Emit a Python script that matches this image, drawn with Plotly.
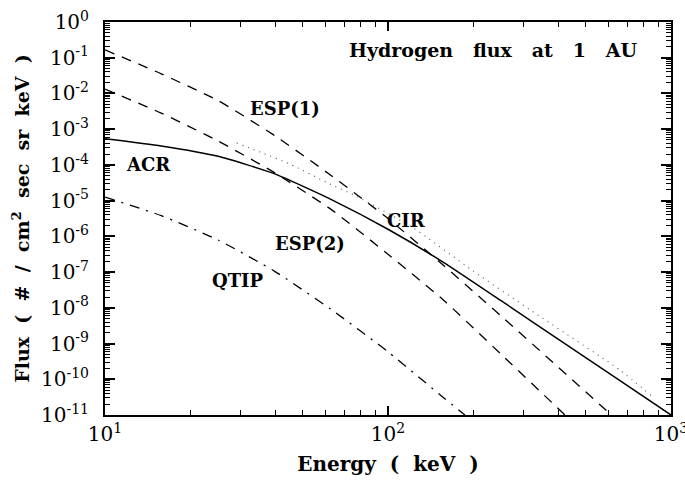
import math
import plotly.graph_objects as go

# ---- data ----
esp1_energy = [10, 15.8, 25.1, 39.8, 63.1, 100, 158, 251, 398, 616]
esp1_flux = [0.166, 0.0355, 6.3e-3, 6.6e-4, 5.0e-5, 3.16e-6, 1.48e-7, 5.9e-9, 2.24e-10, 1e-11]

esp2_energy = [10, 15.8, 25.1, 39.8, 63.1, 100, 158, 251, 422]
esp2_flux = [0.0132, 2.82e-3, 4.68e-4, 6.0e-5, 5.6e-6, 3.16e-7, 1.58e-8, 5.0e-10, 1e-11]

acr_energy = [10, 15.8, 25.1, 39.8, 63.1, 100, 158, 251, 398, 631, 1000]
acr_flux = [5.4e-4, 3.4e-4, 1.74e-4, 5.6e-5, 1.07e-5, 1.58e-6, 1.82e-7, 1.58e-8, 1.35e-9, 1.17e-10, 1e-11]

cir_energy = [29.2, 36.1, 45.1, 61.4, 78.3, 121.6, 200, 318, 661, 851]
cir_flux = [4.1e-4, 2.14e-4, 1.05e-4, 3.1e-5, 1.26e-5, 1.82e-6, 1.07e-7, 8.7e-9, 1.8e-10, 3.5e-11]

qtip_energy = [10, 15.8, 25.1, 39.8, 63.1, 100, 158, 187]
qtip_flux = [1.26e-5, 3.8e-6, 7.9e-7, 1.05e-7, 8.9e-9, 5.9e-10, 2.95e-11, 1e-11]

x_tick_vals = [10, 100, 1000]
x_tick_text = ["10<sup>1</sup>", "10<sup>2</sup>", "10<sup>3</sup>"]
y_exponents = [0, -1, -2, -3, -4, -5, -6, -7, -8, -9, -10, -11]

labels = ["ESP(1)", "ACR", "CIR", "ESP(2)", "QTIP"]
label_energy = [43.3, 14.2, 116.7, 53.0, 29.5]
label_flux = [3.9e-3, 1.0e-4, 2.8e-6, 6.5e-7, 5.9e-8]

title_text = "Hydrogen\u00a0\u00a0\u00a0flux\u00a0\u00a0\u00a0at\u00a0\u00a0\u00a01\u00a0\u00a0\u00a0AU"

# ---- figure ----
FONT = "DejaVu Serif"
fig = go.Figure()

def add(x, y, dash, width=1.3, color="black"):
    fig.add_trace(go.Scatter(x=x, y=y, mode="lines",
                             line=dict(color=color, width=width, dash=dash, shape="spline", smoothing=0.5),
                             showlegend=False, hoverinfo="skip"))

add(esp1_energy, esp1_flux, "10px,8px")
add(esp2_energy, esp2_flux, "10px,8px")
add(cir_energy, cir_flux, "1px,5px", 1.1, "#555555")
add(acr_energy, acr_flux, "solid", 1.5)
add(qtip_energy, qtip_flux, "10px,7px,2px,7px")

for t, ex, fy in zip(labels, label_energy, label_flux):
    fig.add_annotation(x=math.log10(ex), y=math.log10(fy), xref="x", yref="y",
                       text="<b>%s</b>" % t, showarrow=False,
                       font=dict(family=FONT, size=18, color="black"))

fig.add_annotation(x=0.945, y=0.929, xref="paper", yref="paper", xanchor="right", yanchor="middle",
                   text="<b>%s</b>" % title_text, showarrow=False,
                   font=dict(family=FONT, size=19, color="black"))

minor_x = [m * 10 ** d for d in (1, 2) for m in range(2, 10)]
minor_y = [m * 10.0 ** d for d in range(-11, 0) for m in range(2, 10)]

fig.update_xaxes(type="log", range=[0.9999, 3.0001], tickvals=x_tick_vals, ticktext=x_tick_text,
                 ticks="inside", ticklen=9, tickwidth=1.5, tickcolor="black",
                 showline=True, linecolor="black", linewidth=2, mirror="ticks",
                 showgrid=False, zeroline=False, automargin=False, ticklabeloverflow="allow",
                 minor=dict(tickvals=minor_x, ticks="inside", ticklen=5, tickwidth=1,
                            tickcolor="black", showgrid=False),
                 tickfont=dict(family=FONT, size=20, color="black"),
                 title=dict(text="<b>Energy\u00a0\u00a0(\u00a0\u00a0keV\u00a0\u00a0)</b>",
                            font=dict(family=FONT, size=20, color="black"), standoff=12))

fig.update_yaxes(type="log", range=[-11, 0], tickvals=[10.0 ** e for e in y_exponents],
                 ticktext=["10<sup>%d</sup>" % e for e in y_exponents],
                 ticks="inside", ticklen=10, tickwidth=2, tickcolor="black",
                 showline=True, linecolor="black", linewidth=2, mirror="ticks",
                 showgrid=False, zeroline=False, automargin=False, ticklabelstandoff=10,
                 minor=dict(tickvals=minor_y, ticks="inside", ticklen=5, tickwidth=1,
                            tickcolor="black", showgrid=False),
                 tickfont=dict(family=FONT, size=20, color="black"),
                 title=dict(text="<b>Flux\u00a0\u00a0(\u00a0\u00a0#\u00a0\u00a0/\u00a0\u00a0cm<sup>2</sup>\u00a0\u00a0sec\u00a0\u00a0sr\u00a0\u00a0keV\u00a0\u00a0)</b>",
                            font=dict(family=FONT, size=19, color="black"), standoff=6))

fig.update_layout(width=685, height=489, margin=dict(l=105, r=14, t=22, b=74),
                  plot_bgcolor="white", paper_bgcolor="white")

fig.write_html("out.html", config={"displayModeBar": False},
               post_script="document.body.style.margin='0';")
